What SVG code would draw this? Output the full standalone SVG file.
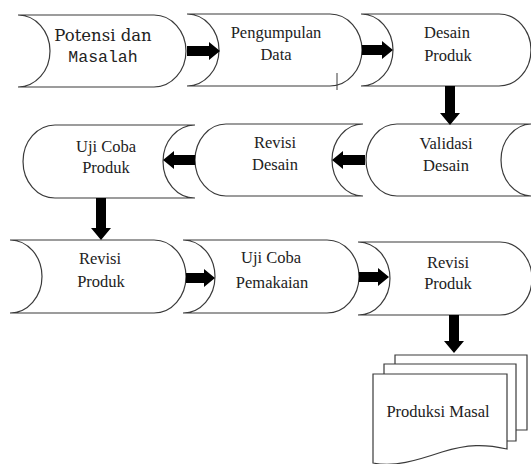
<svg xmlns="http://www.w3.org/2000/svg" width="531" height="464" viewBox="0 0 531 464">
<style>
.s{fill:#fff;stroke:#3a3a3a;stroke-width:1.2}
.t{font-size:16.5px;fill:#222;text-anchor:middle}
.a{fill:#000;stroke:none}
</style>
<g id="n1"><path class="s" d="M18,15 H154 A32,36 0 0 1 154,87 H18 A32,36 0 0 0 18,15 Z"/>
<text class="t" font-family="DejaVu Serif, Liberation Serif, serif" x="103" y="41">Potensi dan</text><text class="t" font-family="Liberation Mono, Liberation Serif, serif" x="103" y="62">Masalah</text></g>
<g id="n2"><path class="s" d="M187,14 H330 A32,36 0 0 1 330,86 H187 A32,36 0 0 0 187,14 Z"/>
<text class="t" font-family="Times New Roman, serif" x="276" y="38">Pengumpulan</text><text class="t" font-family="serif" x="276" y="60">Data</text></g>
<g id="n3"><path class="s" d="M361,14 H499 A32,36 0 0 1 499,86 H361 A32,36 0 0 0 361,14 Z"/>
<text class="t" font-family="Liberation Serif" x="447" y="38">Desain</text><text class="t" font-family="Liberation Serif" x="448" y="61">Produk</text></g>
<g id="n4"><path class="s" d="M397,124 H532 A31,36 0 0 0 532,196 H397 A31,36 0 0 1 397,124 Z"/>
<text class="t" font-family="Liberation Serif" x="446" y="149">Validasi</text><text class="t" font-family="Liberation Serif" x="446" y="171">Desain</text></g>
<g id="n5"><path class="s" d="M226,124 H363 A31,36 0 0 0 363,196 H226 A31,36 0 0 1 226,124 Z"/>
<text class="t" font-family="Liberation Serif" x="275" y="148">Revisi</text><text class="t" font-family="Liberation Serif" x="275" y="170">Desain</text></g>
<g id="n6"><path class="s" d="M55,125 H195 A32,36.5 0 0 0 195,198 H55 A32,36.5 0 0 1 55,125 Z"/>
<text class="t" font-family="Liberation Serif" x="106" y="152">Uji Coba</text><text class="t" font-family="Liberation Serif" x="106" y="173">Produk</text></g>
<g id="n7"><path class="s" d="M10,240 H154 A32,36.5 0 0 1 154,313 H10 A32,36.5 0 0 0 10,240 Z"/>
<text class="t" font-family="Liberation Serif" x="100" y="264">Revisi</text><text class="t" font-family="Liberation Serif" x="101" y="287">Produk</text></g>
<g id="n8"><path class="s" d="M183,240 H327 A32,36.5 0 0 1 327,313 H183 A32,36.5 0 0 0 183,240 Z"/>
<text class="t" font-family="Liberation Serif" x="271" y="263">Uji Coba</text><text class="t" font-family="Liberation Serif" x="272" y="288">Pemakaian</text></g>
<g id="n9"><path class="s" d="M358,242 H500 A32,36.5 0 0 1 500,315 H358 A32,36.5 0 0 0 358,242 Z"/>
<text class="t" font-family="Liberation Serif" x="448" y="268">Revisi</text><text class="t" font-family="Liberation Serif" x="448" y="289">Produk</text></g>
<g id="n10">
<path class="s" d="M395,355 H527 V430 H395 Z"/>
<path class="s" d="M384,364 H516 V441 H384 Z"/>
<path class="s" d="M373,374 H507 V449 C485,444 468,444 442,452 C415,461 395,467 373,463 Z"/>
<text class="t" font-family="Liberation Serif" x="438" y="417">Produksi Masal</text></g>
<g id="connectors">
<path class="a" d="M187,46 H209 V42 L220,51 L209,60 V56 H187 Z"/>
<path class="a" d="M362,45 H382 V41 L393,50 L382,59 V55 H362 Z"/>
<path class="a" d="M445,86 V113 H440 L450,125 L460,113 H455 V86 Z"/>
<path class="a" d="M365,155 H343 V151 L332,160 L343,169 V165 H365 Z"/>
<path class="a" d="M195,155 H174 V151 L163,160 L174,169 V165 H195 Z"/>
<path class="a" d="M96,198 V228 H91 L101,240 L111,228 H106 V198 Z"/>
<path class="a" d="M186,273 H204 V269 L215,278 L204,287 V283 H186 Z"/>
<path class="a" d="M359,272 H378 V268 L389,277 L378,286 V282 H359 Z"/>
<path class="a" d="M449,315 V341 H444 L454,353 L464,341 H459 V315 Z"/>
</g>
<path d="M337,73 V90" stroke="#3a3a3a" stroke-width="1" fill="none"/>
</svg>
